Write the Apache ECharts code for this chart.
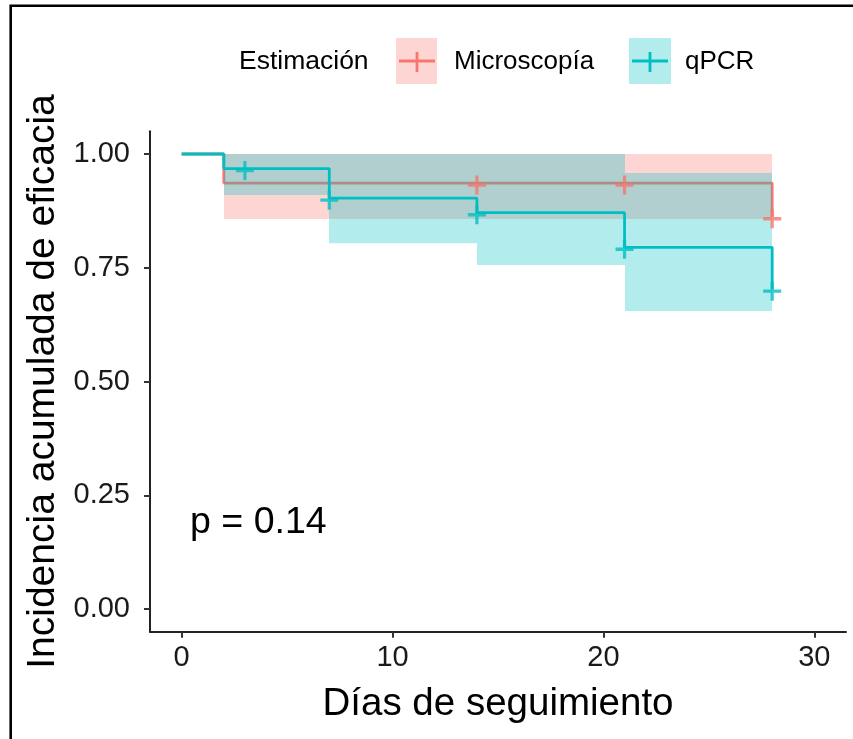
<!DOCTYPE html>
<html>
<head>
<meta charset="utf-8">
<script src="https://cdn.jsdelivr.net/npm/echarts@6/dist/echarts.min.js"></script>
<style>html,body{margin:0;padding:0;background:#fff}#c{width:853px;height:739px}</style>
</head>
<body>
<div id="c"></div>
<script>
// ---- data ----
const seriesNames = ['Microscopía', 'qPCR'];
const microTimes = [0, 2, 28];
const microSurv = [1, 0.936, 0.862];
const qpcrTimes = [0, 2, 7, 14, 21, 28];
const qpcrSurv = [1, 0.968, 0.903, 0.871, 0.795, 0.703];
// confidence bands: [start, end, lower, upper]
const microBandStart = [2];
const microBandEnd = [28];
const microBandLower = [0.857];
const microBandUpper = [1.0];
const qpcrBandStart = [2, 7, 14, 21];
const qpcrBandEnd = [7, 14, 21, 28];
const qpcrBandLower = [0.910, 0.804, 0.756, 0.655];
const qpcrBandUpper = [1.0, 1.0, 1.0, 0.958];
// censor marks
const microCensorT = [14, 21, 28];
const microCensorS = [0.936, 0.936, 0.862];
const qpcrCensorT = [3, 7, 14, 21, 28];
const qpcrCensorS = [0.968, 0.903, 0.871, 0.795, 0.703];
const xTicks = [0, 10, 20, 30];
const yTicks = [0, 0.25, 0.5, 0.75, 1];
const pText = 'p = 0.14';

const RED = '#F8766D', TEAL = '#00BFC4';
const FONT = 'Liberation Sans, Arial, sans-serif';
const plus = 'path://M7.8,0 H11.2 V7.8 H19 V11.2 H11.2 V19 H7.8 V11.2 H0 V7.8 H7.8 Z';

function zip(a, b) { return a.map((v, i) => [v, b[i]]); }
function bands(s, e, l, u) { return s.map((v, i) => [v, e[i], l[i], u[i]]); }

function bandSeries(name, data, color, z) {
  return {
    type: 'custom', name: name, data: data, silent: true, z: z,
    encode: { x: [0, 1], y: [2, 3] },
    renderItem: function (params, api) {
      const p1 = api.coord([api.value(0), api.value(3)]);
      const p2 = api.coord([api.value(1), api.value(2)]);
      const x1 = Math.round(p1[0]), x2 = Math.round(p2[0]);
      return { type: 'rect', shape: { x: x1, y: p1[1], width: x2 - x1, height: p2[1] - p1[1] },
        style: { fill: color, opacity: 0.3 } };
    }
  };
}

const chart = echarts.init(document.getElementById('c'), null, { renderer: 'canvas' });
chart.setOption({
  animation: false,
  backgroundColor: '#fff',
  grid: { left: 150, right: 7, top: 131.25, bottom: 107.25, containLabel: false },
  xAxis: {
    type: 'value', min: -1.5, max: 31.5,
    name: 'Días de seguimiento', nameLocation: 'middle', nameGap: 53,
    nameTextStyle: { fontSize: 38.5, color: '#000', fontFamily: FONT },
    axisLine: { show: true, onZero: false, lineStyle: { color: '#222', width: 2 } },
    axisTick: { show: true, length: 6, customValues: xTicks, lineStyle: { color: '#333', width: 2 } },
    axisLabel: { customValues: xTicks, fontSize: 29, color: '#1a1a1a', fontFamily: FONT, margin: 12 },
    splitLine: { show: false }
  },
  yAxis: {
    type: 'value', min: -0.05, max: 1.05,
    name: 'Incidencia acumulada de eficacia', nameLocation: 'middle', nameGap: 87,
    nameTextStyle: { fontSize: 39, color: '#000', fontFamily: FONT },
    axisLine: { show: true, onZero: false, lineStyle: { color: '#222', width: 2 } },
    axisTick: { show: true, length: 6, customValues: yTicks, lineStyle: { color: '#333', width: 2 } },
    axisLabel: { customValues: yTicks, fontSize: 29, color: '#1a1a1a', fontFamily: FONT, margin: 20,
      formatter: v => v.toFixed(2) },
    splitLine: { show: false }
  },
  series: [
    bandSeries('Microscopía band', bands(microBandStart, microBandEnd, microBandLower, microBandUpper), RED, 1),
    { type: 'line', name: 'Microscopía', data: zip(microTimes, microSurv), step: 'end', showSymbol: false, z: 2,
      lineStyle: { color: RED, width: 2.8 }, silent: true },
    bandSeries('qPCR band', bands(qpcrBandStart, qpcrBandEnd, qpcrBandLower, qpcrBandUpper), TEAL, 3),
    { type: 'line', name: 'qPCR', data: zip(qpcrTimes, qpcrSurv), step: 'end', showSymbol: false, z: 4,
      lineStyle: { color: TEAL, width: 2.8 }, silent: true },
    { type: 'scatter', data: zip(microCensorT, microCensorS), symbol: plus, symbolSize: [18, 19], z: 5,
      symbolOffset: [0, 2], itemStyle: { color: RED }, silent: true },
    { type: 'scatter', data: zip(qpcrCensorT, qpcrCensorS), symbol: plus, symbolSize: [18, 19], z: 6,
      symbolOffset: [0, 2], itemStyle: { color: TEAL }, silent: true }
  ],
  graphic: [
    { type: 'rect', shape: { x: 10.7, y: 5.7, width: 1000, height: 1000 }, style: { fill: 'none', stroke: '#000', lineWidth: 2.6 }, silent: true },
    { type: 'text', x: 239, y: 62, style: { text: 'Estimación', font: '26.5px ' + FONT, fill: '#000', verticalAlign: 'middle' } },
    { type: 'rect', shape: { x: 396, y: 38, width: 41, height: 46 }, style: { fill: 'rgba(248,118,109,0.3)' } },
    { type: 'line', shape: { x1: 399, y1: 61, x2: 435, y2: 61 }, style: { stroke: RED, lineWidth: 3 } },
    { type: 'line', shape: { x1: 417, y1: 52, x2: 417, y2: 72 }, style: { stroke: RED, lineWidth: 2.8 } },
    { type: 'text', x: 454, y: 62, style: { text: seriesNames[0], font: '26px ' + FONT, fill: '#000', verticalAlign: 'middle' } },
    { type: 'rect', shape: { x: 629, y: 38, width: 42, height: 46 }, style: { fill: 'rgba(0,191,196,0.3)' } },
    { type: 'line', shape: { x1: 632, y1: 61, x2: 668, y2: 61 }, style: { stroke: TEAL, lineWidth: 3 } },
    { type: 'line', shape: { x1: 650, y1: 52, x2: 650, y2: 72 }, style: { stroke: TEAL, lineWidth: 2.8 } },
    { type: 'text', x: 685, y: 62, style: { text: seriesNames[1], font: '26px ' + FONT, fill: '#000', verticalAlign: 'middle' } }
  ]
});
// p-value annotation placed through the axis scales
const pp = chart.convertToPixel({ gridIndex: 0 }, [0.4, 0.19]);
chart.setOption({ graphic: [{ type: 'text', id: 'pval', x: pp[0], y: pp[1],
  style: { text: pText, font: '37.5px ' + FONT, fill: '#000', verticalAlign: 'middle' } }] });
</script>
</body>
</html>
